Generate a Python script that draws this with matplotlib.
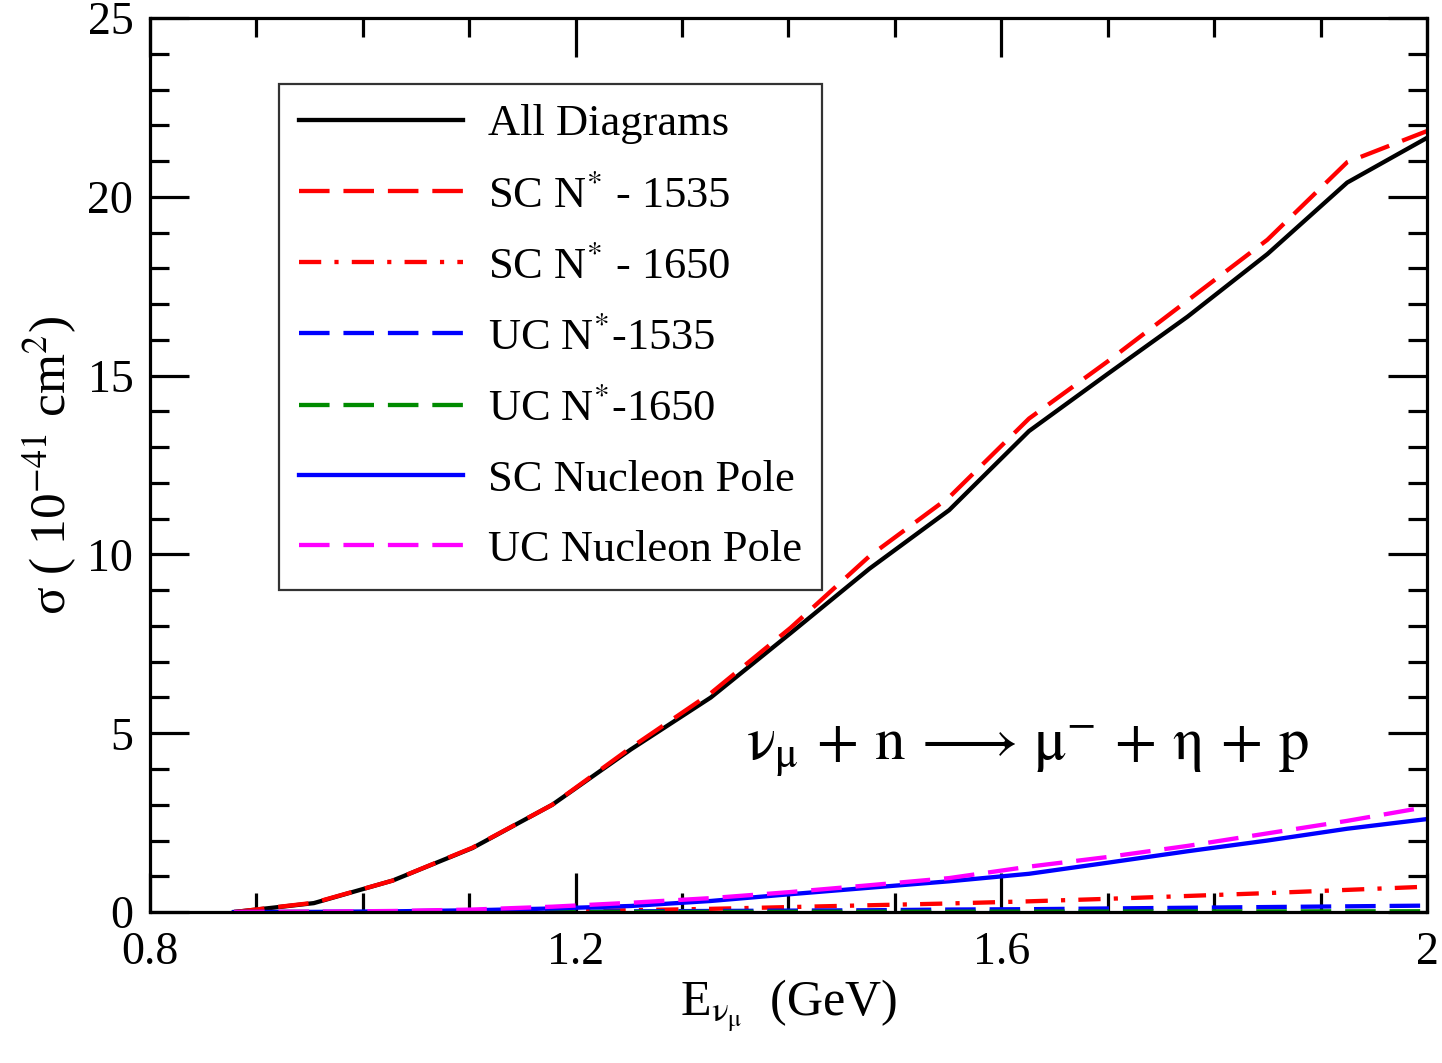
import matplotlib
matplotlib.use("Agg")
import matplotlib.pyplot as plt
from matplotlib.ticker import MultipleLocator

plt.rcParams['font.family'] = ['Liberation Serif', 'DejaVu Serif']
plt.rcParams['mathtext.fontset'] = 'stix'
plt.rcParams['lines.scale_dashes'] = False

# ---- data ----
energy = [0.879, 0.954, 1.028, 1.103, 1.178, 1.252, 1.327, 1.402,
          1.476, 1.551, 1.626, 1.700, 1.775, 1.850, 1.925, 2.000]
all_diagrams = [0.0, 0.25, 0.88, 1.79, 3.0, 4.55, 6.0, 7.8,
                9.6, 11.24, 13.45, 15.05, 16.65, 18.4, 20.4, 21.65]
sc_1535 = [0.0, 0.26, 0.88, 1.80, 3.0, 4.6, 6.12, 7.95,
           9.95, 11.6, 13.8, 15.4, 17.1, 18.8, 20.97, 21.84]
sc_1650 = [0.0, 0.0, 0.0, 0.01, 0.02, 0.05, 0.09, 0.14,
           0.19, 0.24, 0.30, 0.37, 0.45, 0.53, 0.62, 0.71]
uc_1535 = [0.0, 0.0, 0.0, 0.005, 0.01, 0.02, 0.03, 0.04,
           0.05, 0.07, 0.08, 0.10, 0.12, 0.14, 0.16, 0.18]
uc_1650 = [0.0, 0.0, 0.0, 0.0, 0.002, 0.003, 0.005, 0.006,
           0.008, 0.01, 0.012, 0.014, 0.016, 0.018, 0.02, 0.022]
sc_np = [0.0, 0.005, 0.02, 0.05, 0.10, 0.17, 0.31, 0.50,
         0.68, 0.86, 1.07, 1.38, 1.70, 2.00, 2.33, 2.60]
uc_np = [0.0, 0.01, 0.03, 0.07, 0.15, 0.26, 0.39, 0.56,
         0.75, 0.95, 1.27, 1.54, 1.85, 2.20, 2.55, 2.94]

labels = ['All Diagrams', r'SC N$^{*}$ - 1535', r'SC N$^{*}$ - 1650',
          r'UC N$^{*}$-1535', r'UC N$^{*}$-1650', 'SC Nucleon Pole',
          'UC Nucleon Pole']
xticks = [0.8, 1.2, 1.6, 2.0]
xticklabels = ['0.8', '1.2', '1.6', '2']
yticks = [0, 5, 10, 15, 20, 25]

fig = plt.figure(figsize=(14.42, 10.63), dpi=100)
ax = fig.add_axes([0.104, 0.142, 0.8856, 0.841])

lw = 3.1
dash = (0, (22, 10))
dashdot = (0, (16, 9.5, 3, 9.5))
ax.plot(energy, all_diagrams, color='black', lw=lw, label=labels[0])
ax.plot(energy, sc_1535, color='#ff0000', lw=lw, linestyle=dash, label=labels[1])
ax.plot(energy, sc_1650, color='#ff0000', lw=lw, linestyle=dashdot, label=labels[2])
ax.plot(energy, uc_1535, color='#0000ff', lw=lw, linestyle=dash, label=labels[3])
ax.plot(energy, uc_1650, color='#008b00', lw=lw, linestyle=dash, label=labels[4])
ax.plot(energy, sc_np, color='#0000ff', lw=lw, label=labels[5])
ax.plot(energy, uc_np, color='#ff00ff', lw=lw, linestyle=dash, label=labels[6])

ax.set_xlim(0.8, 2.0)
ax.set_ylim(0, 25)
ax.set_xticks(xticks)
ax.set_xticklabels(xticklabels)
ax.set_yticks(yticks)
ax.xaxis.set_minor_locator(MultipleLocator(0.1))
ax.yaxis.set_minor_locator(MultipleLocator(1))
ax.tick_params(which='both', direction='in', top=True, right=True,
               width=2.3, labelsize=33)
ax.tick_params(which='major', length=28)
ax.tick_params(which='minor', length=14)
ax.tick_params(axis='x', pad=14)
ax.tick_params(axis='y', pad=12)
for s in ax.spines.values():
    s.set_linewidth(2.3)

ax.set_xlabel(r'E$_{\mathrm{ν}_{\mathrm{μ}}}$  (GeV)', fontsize=36, labelpad=2)
ax.set_ylabel(r'σ ( 10$^{\mathrm{-41}}$ cm$^{\mathrm{2}}$)', fontsize=37, labelpad=6)

ax.text(1.625, 4.5,
        r'$\mathrm{ν}_{\mathrm{μ}}\,+\,\mathrm{n}\,\longrightarrow\,\mathrm{μ}^{-}\,+\,\mathrm{η}\,+\,\mathrm{p}$',
        fontsize=44, ha='center', va='center')

leg = ax.legend(loc='upper left', bbox_to_anchor=(0.101, 0.926), fontsize=32,
                frameon=True, fancybox=False, edgecolor='black',
                handlelength=3.7, handletextpad=0.55, labelspacing=0.68,
                borderpad=0.45, borderaxespad=0)
leg.get_frame().set_linewidth(1.6)

fig.savefig('out.png', dpi=100)
